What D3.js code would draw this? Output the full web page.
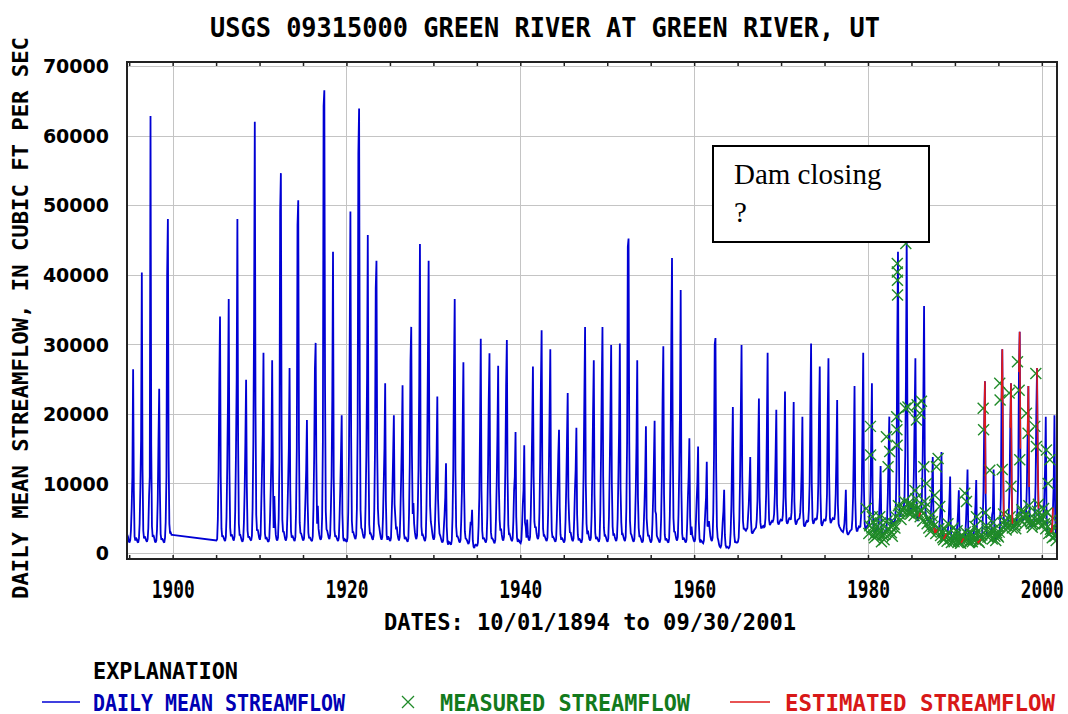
<!DOCTYPE html>
<html>
<head>
<meta charset="utf-8">
<script src="https://cdn.jsdelivr.net/npm/d3@7"></script>
<style>
  body { margin: 0; background: #fff; }
  .mono { font-family: "DejaVu Sans Mono", monospace; font-weight: bold; }
</style>
</head>
<body>
<script>
// water years (Oct-Sep); 1901-1904 missing in the record
var waterYears = [1895, 1896, 1897, 1898, 1899, 1900,
  1905, 1906, 1907, 1908, 1909, 1910, 1911, 1912, 1913, 1914, 1915, 1916, 1917, 1918, 1919,
  1920, 1921, 1922, 1923, 1924, 1925, 1926, 1927, 1928, 1929, 1930, 1931, 1932, 1933, 1934,
  1935, 1936, 1937, 1938, 1939, 1940, 1941, 1942, 1943, 1944, 1945, 1946, 1947, 1948, 1949,
  1950, 1951, 1952, 1953, 1954, 1955, 1956, 1957, 1958, 1959, 1960, 1961, 1962, 1963, 1964,
  1965, 1966, 1967, 1968, 1969, 1970, 1971, 1972, 1973, 1974, 1975, 1976, 1977, 1978, 1979,
  1980, 1981, 1982, 1983, 1984, 1985, 1986, 1987, 1988, 1989, 1990, 1991, 1992, 1993, 1994,
  1995, 1996, 1997, 1998, 1999, 2000, 2001]

// flow (cfs), mid-month: Oct Nov Dec Jan Feb Mar Apr May Jun Jul Aug Sep
var monthlyFlow = [
  [2600, 2300, 1700, 1500, 1900, 3200, 6500, 11000, 26400, 9000, 2400, 1800],
  [2200, 2000, 1600, 1500, 2100, 4200, 9500, 16400, 40300, 12000, 3200, 2100],
  [2400, 2100, 1800, 1600, 2000, 3600, 8200, 11000, 62800, 15500, 3800, 2300],
  [2600, 2200, 1700, 1500, 1800, 3400, 7600, 16000, 23600, 8800, 2700, 1900],
  [2100, 1900, 1600, 1500, 2200, 4500, 11000, 40000, 48000, 14000, 4200, 2800],
  [2900, 2600, 2600, null, null, null, null, null, null, null, null, null],
  [null, null, null, 1800, 2000, 4800, 12000, 24200, 34000, 11000, 3500, 2300],
  [2500, 2200, 1900, 1700, 2300, 5200, 12500, 22000, 36500, 12000, 3600, 2400],
  [2700, 2400, 2000, 1800, 2400, 6000, 14000, 24800, 48000, 16000, 4200, 2600],
  [2600, 2200, 1800, 1600, 2000, 4400, 9000, 16000, 24900, 9500, 3200, 2200],
  [2400, 2100, 1900, 1800, 2500, 6500, 16000, 33000, 62000, 21000, 5500, 3200],
  [3400, 2800, 2200, 1900, 2600, 7000, 12000, 17000, 28800, 8500, 2800, 2000],
  [2300, 2000, 1700, 1600, 2100, 4800, 9000, 14000, 27700, 11500, 3600, 8200],
  [4500, 2600, 2000, 1800, 2200, 5000, 13000, 49000, 54600, 18000, 4800, 3000],
  [3100, 2500, 2000, 1800, 2300, 5500, 10000, 15000, 26600, 9000, 3100, 2200],
  [2500, 2200, 1900, 1700, 2300, 6000, 15000, 47100, 50700, 16000, 4400, 2900],
  [2800, 2400, 2000, 1800, 2100, 4500, 8000, 12000, 19100, 7200, 2900, 2100],
  [2300, 2000, 1800, 1700, 2400, 6500, 14000, 26500, 30200, 13000, 4200, 6800],
  [3500, 2600, 2100, 1900, 2300, 5200, 16000, 64200, 66500, 24000, 6000, 3400],
  [3200, 2700, 2200, 2000, 2600, 6000, 11000, 22000, 43300, 11000, 3300, 2300],
  [2500, 2200, 1900, 1700, 2200, 5000, 9000, 14000, 19800, 5600, 2200, 1700],
  [2000, 1900, 1700, 1600, 2200, 5800, 14000, 30000, 49100, 17000, 4600, 3000],
  [3000, 2600, 2200, 2000, 2600, 6500, 18000, 57500, 63900, 22000, 6200, 3600],
  [3400, 2800, 2300, 2100, 2700, 7000, 14000, 25000, 45700, 14000, 4100, 2700],
  [2800, 2500, 2100, 1900, 2500, 6200, 15000, 38000, 42000, 15000, 6400, 4200],
  [3600, 2800, 2200, 1900, 2300, 5200, 10000, 15000, 24400, 7500, 2600, 1900],
  [2400, 2200, 1900, 1700, 2200, 5400, 9000, 14000, 19800, 7000, 5200, 3400],
  [3800, 2700, 2100, 1800, 2300, 5600, 10500, 16000, 24100, 8000, 2800, 2000],
  [2300, 2100, 1800, 1600, 2100, 5800, 13000, 27700, 32500, 14000, 5600, 7200],
  [4200, 3000, 2300, 2000, 2500, 6200, 12000, 24000, 44400, 12500, 3800, 2500],
  [2600, 2300, 1900, 1700, 2300, 6400, 14000, 28000, 42000, 15500, 6800, 4500],
  [3800, 2900, 2200, 1900, 2300, 5000, 9000, 14000, 22500, 7800, 4600, 2800],
  [2500, 2100, 1700, 1500, 1800, 3600, 5500, 8000, 12900, 3800, 1600, 1200],
  [1600, 1500, 1300, 1200, 1900, 5200, 12000, 26000, 36500, 12000, 3800, 2400],
  [2400, 2100, 1700, 1500, 1900, 4600, 9000, 18000, 27400, 9200, 3100, 2100],
  [2000, 1800, 1500, 1300, 1600, 3000, 4500, 4000, 6200, 1800, 900, 700],
  [1100, 1200, 1100, 1000, 1500, 3800, 8000, 18000, 30800, 9000, 3200, 2000],
  [2200, 2000, 1700, 1500, 2000, 5200, 12000, 22000, 28700, 8600, 3000, 2100],
  [2100, 1900, 1600, 1400, 1900, 5000, 10000, 17000, 26900, 9500, 4800, 3200],
  [3500, 2600, 2000, 1800, 2300, 6000, 13000, 24000, 30600, 11000, 4000, 2600],
  [2700, 2300, 1900, 1700, 2100, 4600, 9000, 11000, 17400, 5200, 2200, 1600],
  [1900, 1800, 1500, 1400, 1800, 4000, 7000, 9000, 15500, 4400, 3800, 2200],
  [4800, 2600, 2000, 1800, 2300, 5400, 11000, 18000, 26800, 11000, 4500, 3600],
  [3800, 2800, 2200, 2000, 2500, 5800, 13000, 24000, 32000, 11500, 3500, 2400],
  [2500, 2200, 1900, 1700, 2200, 5600, 12000, 20000, 29300, 9000, 3200, 2200],
  [2300, 2100, 1800, 1600, 2000, 4800, 9000, 14000, 17700, 6500, 2700, 1900],
  [2200, 2000, 1700, 1500, 1900, 4600, 9500, 16000, 23000, 8000, 4800, 2900],
  [3000, 2400, 1900, 1700, 2100, 4800, 9000, 12000, 18000, 5600, 2600, 1800],
  [2100, 1900, 1600, 1500, 2000, 5200, 12000, 22000, 32500, 10000, 4200, 2700],
  [3200, 2500, 2000, 1800, 2200, 5400, 12000, 20000, 27700, 8400, 2900, 2000],
  [2300, 2100, 1800, 1600, 2100, 5800, 14000, 24000, 32500, 11000, 3600, 2400],
  [2500, 2200, 1800, 1600, 2100, 5200, 12000, 20000, 29900, 9800, 3800, 2500],
  [2800, 2300, 1900, 1700, 2200, 5000, 11000, 18000, 30100, 9200, 4400, 2600],
  [2700, 2300, 1900, 1700, 2300, 6500, 16000, 44000, 45200, 16000, 4600, 2800],
  [2600, 2200, 1800, 1600, 2000, 4600, 9000, 16000, 27700, 8000, 3600, 2300],
  [2400, 2100, 1700, 1500, 1800, 4000, 7000, 11000, 18200, 5000, 3400, 2400],
  [2600, 2100, 1700, 1500, 1900, 4200, 8000, 13000, 19000, 6000, 5600, 2500],
  [2200, 2000, 1700, 1500, 2000, 5000, 11000, 22000, 29700, 8400, 2600, 1800],
  [2100, 1900, 1600, 1500, 2100, 5400, 13000, 30000, 42400, 16000, 5000, 3000],
  [3100, 2500, 2000, 1800, 2300, 5600, 12000, 20000, 37800, 9000, 2800, 1900],
  [2200, 2000, 1700, 1500, 1900, 4200, 8000, 11000, 16500, 5200, 2600, 3800],
  [2600, 2200, 1800, 1600, 2000, 4400, 7500, 10000, 15300, 4600, 2000, 1500],
  [1800, 1700, 1500, 1400, 1800, 3800, 6000, 8000, 13100, 3800, 4000, 4600],
  [3400, 2400, 1900, 1700, 2200, 5800, 14000, 30000, 30900, 12000, 3800, 2200],
  [1800, 1200, 900, 800, 1100, 2400, 4500, 6000, 9100, 2600, 1100, 800],
  [900, 800, 700, 800, 1200, 3000, 7000, 14000, 21000, 6000, 2600, 1500],
  [1600, 1500, 1500, 1600, 2200, 5000, 11000, 20000, 29900, 11000, 4600, 3400],
  [3600, 3300, 3200, 3400, 3600, 5200, 7000, 10000, 13800, 4800, 3000, 2800],
  [3000, 3200, 3400, 3500, 3700, 4800, 7500, 15000, 22200, 8000, 4400, 3600],
  [3600, 3800, 3900, 3700, 3800, 5000, 8500, 18000, 28800, 9500, 4800, 4000],
  [4200, 4400, 4600, 4500, 4800, 5600, 8500, 14000, 20600, 7000, 4400, 4100],
  [4300, 4600, 4800, 4700, 4600, 5400, 8000, 14000, 23200, 8000, 4600, 4200],
  [4400, 4800, 5000, 4900, 4800, 5800, 9000, 15000, 21700, 7400, 4600, 4100],
  [4300, 4700, 4800, 4900, 5000, 5800, 8000, 12000, 19600, 6000, 4000, 3800],
  [4000, 4400, 4600, 4500, 4600, 6200, 10000, 20000, 30100, 10000, 4800, 4200],
  [4400, 4800, 5000, 4800, 4900, 6000, 10000, 20000, 26800, 8500, 4300, 3900],
  [4200, 4600, 4800, 4700, 4600, 5400, 8500, 20000, 28000, 11000, 5000, 4300],
  [4500, 4800, 5000, 4900, 4800, 5600, 8500, 14000, 22000, 7000, 4200, 3800],
  [3600, 3400, 3200, 3100, 3000, 3400, 4200, 6000, 9100, 3500, 2800, 2600],
  [2800, 3000, 3200, 3300, 3400, 4800, 8000, 15000, 24000, 8000, 3800, 3200],
  [3200, 3600, 3800, 3700, 3800, 5200, 9000, 18000, 28800, 9500, 4200, 3400],
  [3400, 3800, 4000, 4100, 4200, 5600, 9000, 16000, 24400, 8000, 3800, 3000],
  [3000, 3200, 3400, 3300, 3200, 4000, 5600, 8000, 12500, 4200, 2800, 2400],
  [2600, 3000, 3200, 3100, 3400, 5000, 8500, 14000, 19600, 7000, 3600, 4800],
  [4600, 4400, 4300, 4500, 4800, 6500, 12000, 30000, 43300, 18000, 6200, 5200],
  [5600, 6000, 6200, 6400, 6600, 8000, 14000, 25000, 45500, 20000, 7200, 6000],
  [6200, 6400, 6600, 6500, 6200, 7000, 12000, 20000, 28000, 11000, 5400, 4600],
  [4800, 5200, 5600, 5800, 6000, 8000, 13000, 22000, 35500, 14000, 6000, 5000],
  [5000, 4800, 4600, 4400, 4200, 4800, 7000, 9000, 13800, 5000, 3600, 3000],
  [3000, 3200, 3400, 3300, 3200, 3800, 5000, 7000, 14500, 4000, 2400, 2000],
  [2200, 2400, 2600, 2500, 2400, 3400, 5000, 7500, 11000, 3200, 1900, 1700],
  [1800, 2000, 2200, 2100, 2000, 2800, 4200, 6000, 9000, 2800, 1700, 1500],
  [1600, 1800, 2000, 1900, 1900, 2800, 4800, 8000, 12000, 3400, 1800, 1600],
  [1700, 1900, 2000, 2000, 2100, 3200, 5000, 7000, 10500, 3000, 1700, 1500],
  [1600, 1800, 2000, 2100, 2400, 4600, 9000, 18000, 24700, 8500, 3400, 2600],
  [2600, 2800, 3000, 3000, 2900, 3600, 5500, 6000, 12000, 3800, 2200, 1900],
  [2000, 2200, 2400, 2500, 2600, 4200, 8000, 22000, 29300, 14000, 5200, 3800],
  [3800, 4000, 4200, 4300, 4400, 5800, 9500, 18000, 24400, 9000, 4200, 3600],
  [3600, 3800, 4000, 4200, 4600, 6500, 11000, 26000, 31800, 15000, 5800, 4800],
  [4600, 4800, 5000, 4900, 4800, 6200, 10000, 17000, 24000, 9500, 4400, 3800],
  [3800, 4000, 4200, 4300, 4400, 6000, 10000, 20000, 26600, 13000, 6400, 4600],
  [4400, 4600, 4800, 4700, 4600, 5400, 8000, 12000, 19600, 6000, 3200, 2600],
  [2600, 2800, 3000, 3100, 3000, 4000, 6500, 10000, 19800, 5000, 2400, 2000]
]

// field measurements (decimal year, cfs)
var measYear = [1979.8, 1980.1, 1980.28, 1980.3, 1980.45, 1980.6, 1980.75, 1980.9, 1981.05, 1981.16,
  1981.35, 1981.55, 1981.7, 1981.85, 1982.0, 1982.12, 1982.31, 1982.5, 1982.6, 1982.8,
  1982.95, 1983.1, 1983.3, 1983.33, 1983.35, 1983.37, 1983.38, 1983.39, 1983.4, 1983.6,
  1983.8, 1983.95, 1984.1, 1984.3, 1984.35, 1984.6, 1984.7, 1984.85, 1985.0, 1985.15,
  1985.4, 1985.57, 1985.65, 1985.8, 1985.96, 1986.1, 1986.15, 1986.42, 1986.6, 1986.72,
  1986.9, 1987.1, 1987.3, 1987.5, 1987.68, 1987.88, 1988.07, 1988.26, 1988.45, 1988.6,
  1988.8, 1989.0, 1989.2, 1989.45, 1989.6, 1989.79, 1990.0, 1990.25, 1990.45, 1990.65,
  1990.85, 1991.0, 1991.14, 1991.33, 1991.5, 1991.7, 1991.9, 1992.1, 1992.3, 1992.48,
  1992.7, 1992.9, 1993.1, 1993.25, 1993.3, 1993.5, 1993.7, 1993.9, 1994.01, 1994.2,
  1994.4, 1994.6, 1994.8, 1995.0, 1995.16, 1995.2, 1995.45, 1995.6, 1995.8, 1996.0,
  1996.24, 1996.45, 1996.7, 1996.9, 1997.05, 1997.2, 1997.39, 1997.46, 1997.7, 1997.9,
  1998.05, 1998.23, 1998.42, 1998.6, 1998.8, 1999.0, 1999.19, 1999.31, 1999.38, 1999.6,
  1999.8, 2000.0, 2000.2, 2000.53, 2000.72, 2000.92, 2001.1, 2001.3, 2001.5, 2001.65,
  1980.2, 1980.5, 1980.68, 1981.0, 1981.25, 1981.45, 1981.95, 1982.2, 1982.4, 1982.7,
  1983.0, 1983.2, 1983.5, 1983.7, 1984.0, 1984.2, 1984.45, 1984.9, 1985.1, 1985.3,
  1985.5, 1985.7, 1986.0, 1986.3, 1986.5, 1986.8, 1987.0, 1987.2, 1987.4, 1987.8,
  1988.15, 1988.35, 1988.7, 1988.9, 1989.1, 1989.3, 1989.9, 1990.1, 1990.35, 1990.55,
  1990.75, 1991.2, 1991.4, 1991.6, 1991.8, 1992.0, 1992.2, 1992.4, 1992.6, 1992.8,
  1993.0, 1993.6, 1993.8, 1994.1, 1994.3, 1994.5, 1994.7, 1994.9, 1995.1, 1995.7,
  1995.9, 1996.1, 1996.35, 1996.6, 1996.8, 1997.0, 1997.6, 1997.8, 1998.0, 1998.15,
  1998.5, 1998.7, 1998.9, 1999.1, 1999.5, 1999.7, 1999.9, 2000.1, 2000.3, 2000.45,
  2000.62, 2000.8, 2001.0, 2001.2, 2001.4, 2001.6]
var measFlow = [6400, 2800, 18200, 14100, 3600, 4500, 2200, 3000, 2500, 3300,
  5200, 1600, 2600, 1900, 3100, 16700, 12400, 14600, 3800, 2400,
  4200, 3600, 19600, 17700, 15500, 41600, 40400, 39200, 37100, 5600,
  4800, 6100, 6500, 20800, 44500, 21000, 7200, 6800, 6000, 6400,
  9000, 19100, 21300, 5800, 20100, 6200, 21800, 12400, 6600, 10000,
  5000, 4600, 5400, 3800, 8300, 12400, 13600, 6700, 3000, 2200,
  3400, 2600, 4200, 2000, 1500, 3600, 2100, 3200, 1800, 1400,
  2400, 1900, 8600, 7400, 2600, 1600, 2200, 2000, 3800, 5200,
  1700, 2400, 2600, 20800, 17700, 5800, 3400, 2800, 11900, 3200,
  4400, 2400, 2900, 2300, 24400, 22000, 12000, 5600, 3900, 4300,
  23000, 9600, 4500, 3900, 4400, 27500, 23400, 13400, 6200, 5100,
  4900, 20100, 17200, 5000, 4200, 4300, 18200, 25800, 15300, 7000,
  5200, 4800, 6400, 14800, 10000, 13400, 3000, 5000, 2400, 1800,
  3900, 5200, 2600, 3800, 2900, 4300, 2700, 4600, 3400, 2900,
  4100, 5200, 6800, 5900, 6200, 7400, 6000, 5600, 6900, 5400,
  7800, 6500, 5200, 4600, 7400, 4200, 3600, 3100, 4500, 2800,
  3500, 2500, 1900, 2300, 1700, 2900, 1600, 2600, 1500, 2300,
  1800, 3000, 2000, 1500, 2800, 1600, 2500, 1900, 3100, 1500,
  2100, 3900, 2300, 2600, 2000, 3400, 1800, 2500, 3000, 4600,
  3300, 3800, 5200, 3600, 4800, 3500, 4700, 5800, 4100, 5600,
  6800, 4500, 3700, 5000, 6000, 4600, 3900, 5400, 4200, 3500,
  5800, 2800, 3400, 2200, 3800, 2600]

// periods of estimated record (decimal years)
var estStart = [1985.85, 1987.6, 1988.7, 1990.7, 1992.6, 1993.3, 1995.3, 1996.35, 1997.3, 1998.35, 1999.4, 2000.9]
var estEnd   = [1986.1, 1988.0, 1989.1, 1991.1, 1993.0, 1993.55, 1995.7, 1996.7, 1997.6, 1998.55, 1999.65, 2001.3]

var yTicks = [0, 10000, 20000, 30000, 40000, 50000, 60000, 70000]
var xTickYears = [1900, 1920, 1940, 1960, 1980, 2000]

var W = 1068, H = 714
// plot frame ("top" is taken on window, so pl/pr/pt/pb)
var pl = 127, pr = 1057, pt = 62, pb = 559

function decYear(v) {
    var yr = Math.floor(v)
    var a = new Date(yr, 0, 1), b = new Date(yr + 1, 0, 1)
    return new Date(+a + (v - yr) * (b - a))
}

var series = []
waterYears.forEach(function(wy, i) {
    monthlyFlow[i].forEach(function(v, m) {
        if (v == null) return
        var calYear = m < 3 ? wy - 1 : wy
        series.push({'date': new Date(calYear, (m + 9) % 12, 15), 'value': v})
    })
})

var svg = d3.select('body').append('svg')
    .attr('width', W)
    .attr('height', H)

var x = d3.scaleTime()
    .domain([new Date(1894, 9, 1), new Date(2001, 8, 30)])
    .range([pl, pr])
var y = d3.scaleLinear()
    .domain([0, 70000])
    .range([553, 66])

svg.append('clipPath').attr('id', 'plot-clip')
    .append('rect')
    .attr('x', pl).attr('y', pt)
    .attr('width', pr - pl).attr('height', pb - pt)

// grid
var grid = svg.append('g').attr('stroke', '#c4c4c4').attr('stroke-width', 1)
grid.selectAll('.hgrid').data(yTicks).enter()
    .append('line')
    .attr('x1', pl).attr('x2', pr)
    .attr('y1', function(d) { return Math.round(y(d)) + 0.5 })
    .attr('y2', function(d) { return Math.round(y(d)) + 0.5 })
grid.selectAll('.vgrid').data(xTickYears).enter()
    .append('line')
    .attr('y1', pt).attr('y2', pb)
    .attr('x1', function(d) { return Math.round(x(new Date(d, 0, 1))) + 0.5 })
    .attr('x2', function(d) { return Math.round(x(new Date(d, 0, 1))) + 0.5 })

var plot = svg.append('g').attr('clip-path', 'url(#plot-clip)')

var line = d3.line()
    .x(function(d) { return x(d.date) })
    .y(function(d) { return y(d.value) })

plot.append('path')
    .datum(series)
    .attr('fill', 'none')
    .attr('stroke', '#0000d4')
    .attr('stroke-width', 1.8)
    .attr('stroke-miterlimit', 2)
    .attr('d', line)

// measured points as x marks
var xs = 5.5
plot.selectAll('.meas').data(measYear).enter()
    .append('path')
    .attr('class', 'meas')
    .attr('transform', function(d, i) {
        return 'translate(' + x(decYear(d)) + ',' + y(measFlow[i]) + ')'
    })
    .attr('d', 'M' + (-xs) + ',' + (-xs) + 'L' + xs + ',' + xs + 'M' + (-xs) + ',' + xs + 'L' + xs + ',' + (-xs))
    .attr('stroke', '#1f8a28')
    .attr('stroke-width', 1.4)
    .attr('fill', 'none')

// estimated segments
estStart.forEach(function(s, i) {
    var a = decYear(s), b = decYear(estEnd[i])
    var seg = series.filter(function(d) { return d.date >= a && d.date <= b })
    if (seg.length < 2) return
    plot.append('path')
        .datum(seg)
        .attr('fill', 'none')
        .attr('stroke', '#e01a1a')
        .attr('stroke-width', 1.6)
        .attr('stroke-miterlimit', 2)
        .attr('d', line)
})

// frame
svg.append('rect')
    .attr('x', pl).attr('y', pt)
    .attr('width', pr - pl).attr('height', pb - pt)
    .attr('fill', 'none')
    .attr('stroke', '#222')
    .attr('stroke-width', 2)

// minor ticks every 5 years, inside top and bottom
var fiveYears = x.ticks(d3.timeYear.every(5))
svg.append('g')
    .attr('transform', 'translate(0,' + pb + ')')
    .call(d3.axisBottom(x).tickValues(fiveYears).tickSize(-4).tickFormat(''))
    .call(function(g) { g.select('.domain').remove() })
    .selectAll('line').attr('stroke', '#222').attr('stroke-width', 1.5)
svg.append('g')
    .attr('transform', 'translate(0,' + pt + ')')
    .call(d3.axisTop(x).tickValues(fiveYears).tickSize(-4).tickFormat(''))
    .call(function(g) { g.select('.domain').remove() })
    .selectAll('line').attr('stroke', '#222').attr('stroke-width', 1.5)

// axis labels
var yAxis = svg.append('g')
    .attr('transform', 'translate(' + (pl - 15) + ',0)')
    .call(d3.axisLeft(y).tickValues(yTicks).tickSize(0).tickFormat(d3.format('d')))
yAxis.select('.domain').remove()
yAxis.selectAll('text')
    .attr('font-family', 'DejaVu Sans')
    .attr('font-weight', 'bold')
    .attr('font-size', 19)
    .attr('fill', '#000')
    .attr('dy', '0.36em')

var xAxis = svg.append('g')
    .attr('transform', 'translate(0,' + (pb + 18) + ')')
    .call(d3.axisBottom(x).tickValues(xTickYears.map(function(d) { return new Date(d, 0, 1) }))
        .tickSize(0).tickFormat(d3.timeFormat('%Y')))
xAxis.select('.domain').remove()
xAxis.selectAll('text')
    .attr('class', 'mono')
    .attr('font-size', 25)
    .attr('fill', '#000')
    .attr('textLength', 43)
    .attr('lengthAdjust', 'spacingAndGlyphs')

// title and axis titles
svg.append('text')
    .attr('class', 'mono')
    .attr('x', 545).attr('y', 37)
    .attr('text-anchor', 'middle')
    .attr('font-size', 27)
    .attr('textLength', 670).attr('lengthAdjust', 'spacingAndGlyphs')
    .text('USGS 09315000 GREEN RIVER AT GREEN RIVER, UT')

svg.append('text')
    .attr('class', 'mono')
    .attr('transform', 'translate(28,318) rotate(-90)')
    .attr('text-anchor', 'middle')
    .attr('font-size', 21)
    .attr('textLength', 562).attr('lengthAdjust', 'spacingAndGlyphs')
    .text('DAILY MEAN STREAMFLOW, IN CUBIC FT PER SEC')

svg.append('text')
    .attr('class', 'mono')
    .attr('x', 590).attr('y', 630)
    .attr('text-anchor', 'middle')
    .attr('font-size', 23)
    .attr('textLength', 412).attr('lengthAdjust', 'spacingAndGlyphs')
    .text('DATES: 10/01/1894 to 09/30/2001')

// legend
svg.append('text')
    .attr('class', 'mono')
    .attr('x', 93).attr('y', 679)
    .attr('font-size', 23)
    .attr('textLength', 145).attr('lengthAdjust', 'spacingAndGlyphs')
    .text('EXPLANATION')

var legendY = 702
svg.append('line')
    .attr('x1', 42).attr('x2', 80).attr('y1', legendY).attr('y2', legendY)
    .attr('stroke', '#0000d4').attr('stroke-width', 1.6)
svg.append('text')
    .attr('class', 'mono')
    .attr('x', 93).attr('y', legendY + 9)
    .attr('font-size', 23).attr('fill', '#0000b4')
    .attr('textLength', 252).attr('lengthAdjust', 'spacingAndGlyphs')
    .text('DAILY MEAN STREAMFLOW')

svg.append('path')
    .attr('transform', 'translate(408,' + legendY + ')')
    .attr('d', 'M-6,-6L6,6M-6,6L6,-6')
    .attr('stroke', '#1f8a28').attr('stroke-width', 1.3)
svg.append('text')
    .attr('class', 'mono')
    .attr('x', 440).attr('y', legendY + 9)
    .attr('font-size', 23).attr('fill', '#137a1c')
    .attr('textLength', 250).attr('lengthAdjust', 'spacingAndGlyphs')
    .text('MEASURED STREAMFLOW')

svg.append('line')
    .attr('x1', 730).attr('x2', 770).attr('y1', legendY).attr('y2', legendY)
    .attr('stroke', '#e01a1a').attr('stroke-width', 1.6)
svg.append('text')
    .attr('class', 'mono')
    .attr('x', 785).attr('y', legendY + 9)
    .attr('font-size', 23).attr('fill', '#d81818')
    .attr('textLength', 270).attr('lengthAdjust', 'spacingAndGlyphs')
    .text('ESTIMATED STREAMFLOW')

// annotation box
svg.append('rect')
    .attr('x', 713).attr('y', 146)
    .attr('width', 216).attr('height', 96)
    .attr('fill', '#fff')
    .attr('stroke', '#000')
    .attr('stroke-width', 2)
svg.append('text')
    .attr('x', 734).attr('y', 184)
    .attr('font-family', 'Liberation Serif')
    .attr('font-size', 29)
    .text('Dam closing')
svg.append('text')
    .attr('x', 734).attr('y', 222)
    .attr('font-family', 'Liberation Serif')
    .attr('font-size', 29)
    .text('?')
</script>
</body>
</html>
